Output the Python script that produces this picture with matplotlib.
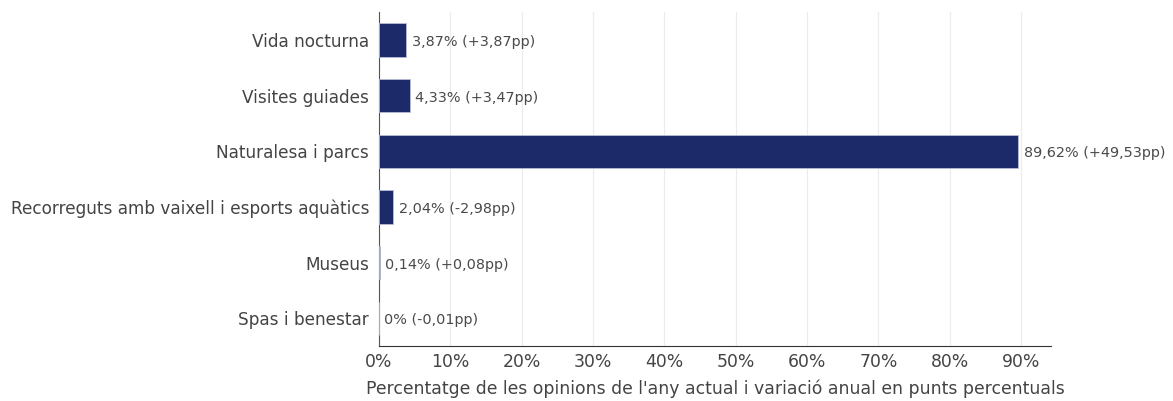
import matplotlib.pyplot as plt
import matplotlib.ticker as mticker

# Data
categories = ['Vida nocturna', 'Visites guiades', 'Naturalesa i parcs',
              'Recorreguts amb vaixell i esports aquàtics', 'Museus', 'Spas i benestar']
values = [3.87, 4.33, 89.62, 2.04, 0.14, 0.0]
changes = [3.87, 3.47, 49.53, -2.98, 0.08, -0.01]

text_color = '#444444'
bar_color = '#1d2a6a'

fig = plt.figure(figsize=(11.73, 4.01), dpi=100)
ax = fig.add_axes([0.323, 0.137, 0.573, 0.833])

y = range(len(categories))
ax.barh(y, values, height=0.6, color=bar_color, edgecolor='#b8bdd6', linewidth=0.6, zorder=3)

for i, (v, c) in enumerate(zip(values, changes)):
    label = f"{v:g}%".replace('.', ',') + " (" + f"{c:+.2f}".replace('.', ',') + "pp)"
    ax.annotate(label, xy=(v, i), xytext=(4, -1.5), textcoords='offset points',
                va='center', ha='left', fontsize=10.4, color='#4a4a4a')

ax.set_yticks(list(y))
ax.set_yticklabels(categories, fontsize=12.2, color=text_color)
ax.set_ylim(len(categories) - 0.5, -0.5)

ax.set_xlim(0, 94.2)
ax.set_xticks(range(0, 100, 10))
ax.xaxis.set_major_formatter(mticker.FuncFormatter(lambda x, p: f"{x:.0f}%"))
ax.tick_params(axis='x', labelsize=12.4, labelcolor=text_color, length=0, pad=5)
ax.tick_params(axis='y', length=0, pad=7)
ax.set_xlabel("Percentatge de les opinions de l'any actual i variació anual en punts percentuals",
              fontsize=12.4, color=text_color, labelpad=6)

ax.grid(axis='x', color='#ececec', linewidth=0.8, zorder=0)
ax.set_axisbelow(True)
for s in ['top', 'right']:
    ax.spines[s].set_visible(False)
ax.spines['left'].set_color('#555555')
ax.spines['bottom'].set_color('#333333')

fig.savefig('out.png', dpi=100)
